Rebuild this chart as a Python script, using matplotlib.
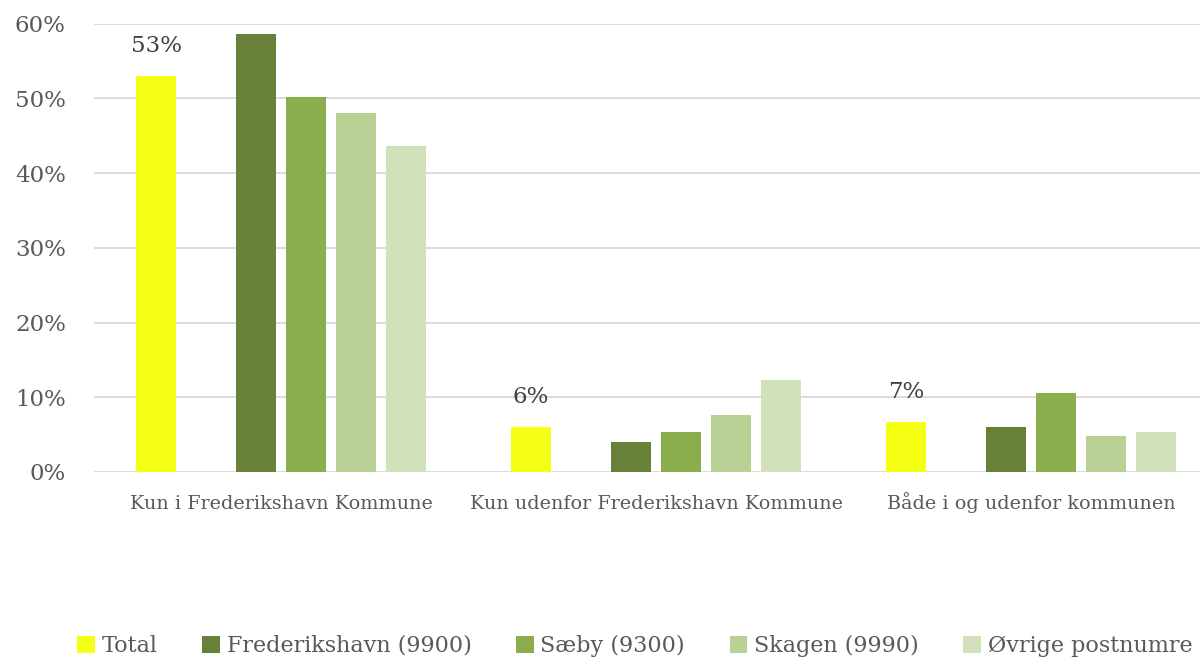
import matplotlib
matplotlib.use("Agg")
import matplotlib.pyplot as plt
from matplotlib.patches import Patch
from matplotlib.ticker import FuncFormatter

plt.rcParams['font.family'] = ['DejaVu Serif']

categories = ['Kun i Frederikshavn Kommune',
              'Kun udenfor Frederikshavn Kommune',
              'Både i og udenfor kommunen']
series_names = ['Total', 'Frederikshavn (9900)', 'Sæby (9300)',
                'Skagen (9990)', 'Øvrige postnumre']
total = [53.0, 6.0, 6.7]
frederikshavn = [58.7, 4.0, 6.0]
saeby = [50.2, 5.4, 10.6]
skagen = [48.1, 7.6, 4.8]
ovrige = [43.7, 12.3, 5.4]
total_labels = ['53%', '6%', '7%']
colors = ['#F5FF14', '#688138', '#8AAE4C', '#B9D194', '#D1E1B9']

series = [total, frederikshavn, saeby, skagen, ovrige]
slots = [0, 2, 3, 4, 5]   # slot 1 is left empty in each group
group_step = 7.5
width = 0.8

fig = plt.figure(figsize=(12, 6.61), dpi=100)
ax = fig.add_axes([0.078, 0.286, 0.922, 0.678])

for k, vals in enumerate(series):
    xs = [g * group_step + slots[k] - 2.5 for g in range(len(categories))]
    ax.bar(xs, vals, width=width, color=colors[k], zorder=3)
    if k == 0:
        for x, v, lab in zip(xs, vals, total_labels):
            ax.text(x, v + 2.5, lab, ha='center', va='bottom',
                    fontsize=16.5, color='#404040')

ax.set_xlim(-3.75, 18.38)
ax.set_ylim(0, 60)
ax.set_yticks(range(0, 61, 10))
ax.yaxis.set_major_formatter(FuncFormatter(lambda v, p: f'{int(v)}%'))
ax.set_xticks([g * group_step for g in range(len(categories))])
ax.set_xticklabels(categories)
ax.grid(axis='y', color='#D9D9D9', linewidth=1.3, zorder=0)
ax.tick_params(axis='both', length=0, colors='#595959')
ax.tick_params(axis='y', labelsize=16.5, pad=20)
ax.tick_params(axis='x', labelsize=13.8, pad=26.5)
for lab in ax.get_xticklabels():
    lab.set_verticalalignment('baseline')
for s in ax.spines.values():
    s.set_visible(False)

handles = [Patch(facecolor=c, edgecolor='none') for c in colors]
fig.legend(handles, series_names, loc='center', ncol=5,
           bbox_to_anchor=(0.529, 0.023), frameon=False,
           fontsize=16, labelcolor='#595959',
           handlelength=0.8, handleheight=0.8, handletextpad=0.3,
           columnspacing=2.0)

fig.savefig('out.png', dpi=100)
